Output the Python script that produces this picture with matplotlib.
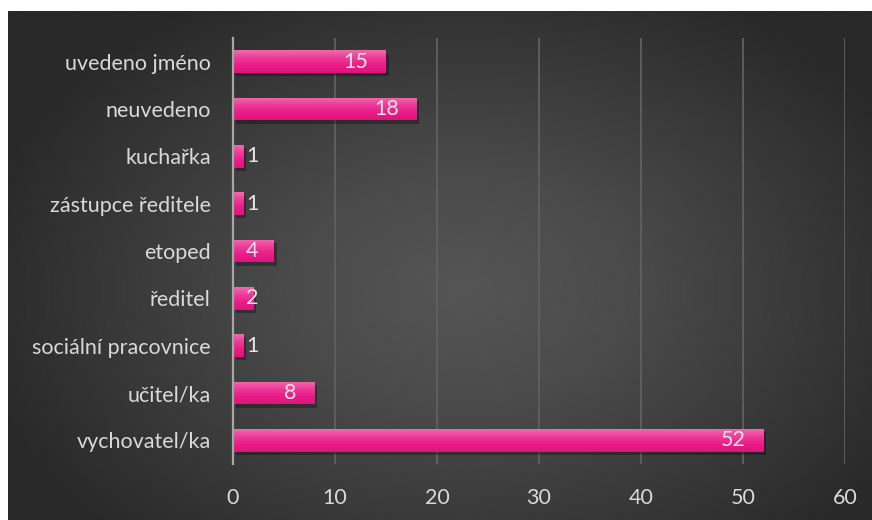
import numpy as np
import matplotlib
matplotlib.use('Agg')
import matplotlib.pyplot as plt
from matplotlib import patheffects as pe
from matplotlib.colors import LinearSegmentedColormap

categories = ['uvedeno jméno', 'neuvedeno', 'kuchařka', 'zástupce ředitele', 'etoped',
              'ředitel', 'sociální pracovnice', 'učitel/ka', 'vychovatel/ka']
values = [15, 18, 1, 1, 4, 2, 1, 8, 52]
xticks = [0, 10, 20, 30, 40, 50, 60]

plt.rcParams['font.family'] = ['Lato', 'DejaVu Sans']

W, H = 872, 520
fig = plt.figure(figsize=(W / 100, H / 100), dpi=100)
fig.patch.set_facecolor('white')

# dark radial gradient background
bg = fig.add_axes([8 / W, 0, 1 - 8 / W, (H - 11) / H])
bg.set_axis_off()
gx, gy = np.meshgrid(np.linspace(-1, 1, 400), np.linspace(-1, 1, 240))
r = np.sqrt(((gx - 0.05) / 1.15) ** 2 + ((gy - 0.1) / 1.35) ** 2)
bg_cmap = LinearSegmentedColormap.from_list('bg', ['#555555', '#4b4b4b', '#3a3a3a', '#292929'])
bg.imshow(np.clip(r, 0, 1), cmap=bg_cmap, aspect='auto', extent=(0, 1, 0, 1), vmin=0, vmax=1)

ax = fig.add_axes([233 / W, (H - 464) / H, (845 - 233) / W, (464 - 38) / H])
ax.patch.set_alpha(0)

y = np.arange(len(categories))[::-1]
bars = ax.barh(y, values, height=0.48, color='#e8197f', zorder=3,
               path_effects=[pe.SimplePatchShadow(offset=(2, -2.5), shadow_rgbFace='black', alpha=0.3),
                             pe.Normal()])

bar_cmap = LinearSegmentedColormap.from_list('bar', ['#e0137c', '#ea1d88', '#ee3b98', '#f06aae'])
grad = np.linspace(0, 1, 64).reshape(-1, 1)
for b in bars:
    x0, y0 = b.get_x(), b.get_y()
    im = ax.imshow(grad, cmap=bar_cmap, aspect='auto', origin='lower',
                   extent=(x0, x0 + b.get_width(), y0, y0 + b.get_height()), zorder=4)
    im.set_clip_path(b)

for yi, v in zip(y, values):
    ax.text(max(v - 1.75, 2.5), yi, str(v), ha='right', va='center', color='#e6e6e6',
            fontsize=15.5, zorder=5)

ax.set_xlim(0, 60)
ax.set_ylim(-0.5, len(categories) - 0.5)
ax.set_xticks(xticks)
ax.set_yticks(y)
ax.set_yticklabels(categories)
ax.tick_params(axis='both', length=0, colors='#d9d9d9', labelsize=15.5)
ax.tick_params(axis='x', pad=17)
ax.tick_params(axis='y', pad=16)
ax.xaxis.grid(True, color='#606060', linewidth=1.3, zorder=0)
ax.set_axisbelow(True)
for s in ['top', 'right', 'bottom']:
    ax.spines[s].set_visible(False)
ax.spines['left'].set_color('#a6a6a6')
ax.spines['left'].set_linewidth(1.6)
ax.spines['left'].set_zorder(6)

fig.savefig('out.png', dpi=100)
